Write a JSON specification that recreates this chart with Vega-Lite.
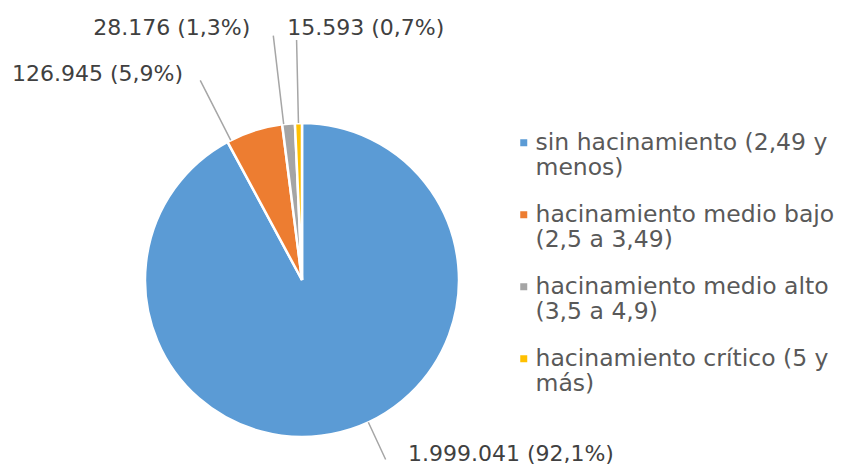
{
  "$schema": "https://vega.github.io/schema/vega-lite/v6.json",
  "width": 604,
  "height": 372,
  "autosize": {"type": "none"},
  "padding": {"left": 0, "top": 94, "right": 239, "bottom": 0},
  "background": "white",
  "config": {
    "view": {"stroke": null},
    "font": "DejaVu Sans",
    "locale": {"number": {"decimal": ",", "thousands": ".", "grouping": [3], "currency": ["", " €"]}}
  },
  "data": {
    "values": [
      {"categoria": "sin hacinamiento (2,49 y menos)", "viviendas": 1999041},
      {"categoria": "hacinamiento medio bajo (2,5 a 3,49)", "viviendas": 126945},
      {"categoria": "hacinamiento medio alto (3,5 a 4,9)", "viviendas": 28176},
      {"categoria": "hacinamiento crítico (5 y más)", "viviendas": 15593}
    ]
  },
  "transform": [
    {"window": [{"op": "sum", "field": "viviendas", "as": "cum"}], "sort": [{"field": "viviendas", "order": "descending"}], "frame": [null, 0]},
    {"joinaggregate": [{"op": "sum", "field": "viviendas", "as": "total"}]},
    {"calculate": "2*PI*(datum.cum - datum.viviendas/2)/datum.total", "as": "mid"},
    {"calculate": "format(datum.viviendas, ',') + ' (' + format(datum.viviendas/datum.total, '.1%') + ')'", "as": "etiqueta"}
  ],
  "layer": [
    {
      "mark": {"type": "arc", "radius": 157, "stroke": "white", "strokeWidth": 2.5},
      "encoding": {
        "theta": {"field": "viviendas", "type": "quantitative", "stack": true},
        "order": {"field": "viviendas", "type": "quantitative", "sort": "descending"},
        "color": {
          "field": "categoria",
          "type": "nominal",
          "scale": {
            "domain": ["sin hacinamiento (2,49 y menos)", "hacinamiento medio bajo (2,5 a 3,49)", "hacinamiento medio alto (3,5 a 4,9)", "hacinamiento crítico (5 y más)"],
            "range": ["#5B9BD5", "#ED7D31", "#A5A5A5", "#FFC000"]
          },
          "legend": {
            "title": null,
            "orient": "none",
            "legendX": 512,
            "legendY": 37,
            "padding": 0,
            "symbolType": "square",
            "symbolSize": 49,
            "symbolStrokeWidth": 0,
            "labelFont": "DejaVu Sans",
            "labelFontSize": 23.5,
            "labelColor": "#595959",
            "labelLineHeight": 30,
            "labelLimit": 400,
            "labelOffset": 0,
            "labelBaseline": "middle",
            "rowPadding": 22,
            "labelExpr": "datum.label == 'sin hacinamiento (2,49 y menos)' ? ['sin hacinamiento (2,49 y', 'menos)'] : datum.label == 'hacinamiento medio bajo (2,5 a 3,49)' ? ['hacinamiento medio bajo', '(2,5 a 3,49)'] : datum.label == 'hacinamiento medio alto (3,5 a 4,9)' ? ['hacinamiento medio alto', '(3,5 a 4,9)'] : ['hacinamiento crítico (5 y', 'más)']"
          }
        }
      }
    },
    {
      "transform": [{"filter": "datum.categoria == 'hacinamiento crítico (5 y más)'"}],
      "layer": [
        {
          "mark": {"type": "arc", "radius": 240, "radius2": 157, "stroke": "#A6A6A6", "strokeWidth": 1.5, "fillOpacity": 0},
          "encoding": {"theta": {"field": "mid", "type": "quantitative", "scale": null, "stack": null}, "theta2": {"field": "mid"}}
        },
        {
          "mark": {"type": "text", "radius": 252, "align": "left", "baseline": "middle", "dx": -9, "fontSize": 22, "color": "#404040"},
          "encoding": {"theta": {"field": "mid", "type": "quantitative", "scale": null, "stack": null}, "text": {"field": "etiqueta"}}
        }
      ]
    },
    {
      "transform": [{"filter": "datum.categoria == 'hacinamiento medio alto (3,5 a 4,9)'"}],
      "layer": [
        {
          "mark": {"type": "arc", "radius": 246, "radius2": 157, "thetaOffset": -0.031, "theta2Offset": -0.031, "stroke": "#A6A6A6", "strokeWidth": 1.5, "fillOpacity": 0},
          "encoding": {"theta": {"field": "mid", "type": "quantitative", "scale": null, "stack": null}, "theta2": {"field": "mid"}}
        },
        {
          "mark": {"type": "text", "radius": 253, "align": "right", "baseline": "middle", "dx": -30, "fontSize": 22, "color": "#404040"},
          "encoding": {"theta": {"field": "mid", "type": "quantitative", "scale": null, "stack": null}, "text": {"field": "etiqueta"}}
        }
      ]
    },
    {
      "transform": [{"filter": "datum.categoria == 'hacinamiento medio bajo (2,5 a 3,49)'"}],
      "layer": [
        {
          "mark": {"type": "arc", "radius": 224, "radius2": 157, "thetaOffset": -0.161, "theta2Offset": -0.161, "stroke": "#A6A6A6", "strokeWidth": 1.5, "fillOpacity": 0},
          "encoding": {"theta": {"field": "mid", "type": "quantitative", "scale": null, "stack": null}, "theta2": {"field": "mid"}}
        },
        {
          "mark": {"type": "text", "radius": 216, "align": "right", "baseline": "middle", "dx": -53, "fontSize": 22, "color": "#404040"},
          "encoding": {"theta": {"field": "mid", "type": "quantitative", "scale": null, "stack": null}, "text": {"field": "etiqueta"}}
        }
      ]
    },
    {
      "transform": [{"filter": "datum.categoria == 'sin hacinamiento (2,49 y menos)'"}],
      "layer": [
        {
          "mark": {"type": "arc", "radius": 198, "radius2": 157, "thetaOffset": -0.189, "theta2Offset": -0.189, "stroke": "#A6A6A6", "strokeWidth": 1.5, "fillOpacity": 0},
          "encoding": {"theta": {"field": "mid", "type": "quantitative", "scale": null, "stack": null}, "theta2": {"field": "mid"}}
        },
        {
          "mark": {"type": "text", "radius": 179.5, "align": "left", "baseline": "middle", "dx": 62, "fontSize": 22, "color": "#404040"},
          "encoding": {"theta": {"field": "mid", "type": "quantitative", "scale": null, "stack": null}, "text": {"field": "etiqueta"}}
        }
      ]
    }
  ],
  "resolve": {"scale": {"theta": "independent"}}
}
